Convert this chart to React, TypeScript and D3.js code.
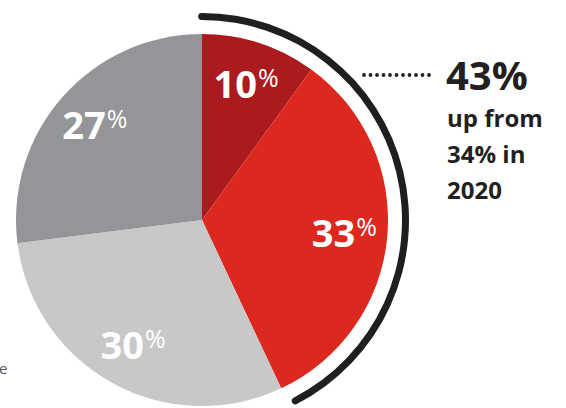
import React from "react";
import * as d3 from "d3";

const categories = ["A", "B", "C", "D"];
const values = [10, 33, 30, 27];
const colors = ["#ab1b1e", "#dc281e", "#c8c8c8", "#939598"];
const highlightShare = 43;
const headline = "43%";
const subLines = ["up from", "34% in", "2020"];

const W = 566;
const H = 408;
const cx = 202;
const cy = 220;
const R = 186;

export default function App() {
  const pie = d3.pie<number>().sort(null).value((d) => d);
  const arcs = pie(values);
  const arc = d3.arc<d3.PieArcDatum<number>>().innerRadius(0).outerRadius(R);
  const labelArc = d3.arc<d3.PieArcDatum<number>>().innerRadius(143).outerRadius(143);
  const angle = d3.scaleLinear().domain([0, 100]).range([0, 2 * Math.PI]);
  const ring = d3
    .arc()
    .innerRadius(200)
    .outerRadius(207)
    .cornerRadius(3.5)
    .startAngle(angle(-0.3))
    .endAngle(angle(highlightShare - 0.3));
  const dots = d3.range(364, 432, 6.5);
  const font = "'Open Sans', sans-serif";
  return (
    <svg width={W} height={H} style={{ position: "absolute", left: 0, top: 0 }}>
      <g transform={`translate(${cx},${cy})`}>
        {arcs.map((a, i) => (
          <path key={categories[i]} d={arc(a) || ""} fill={colors[i]} />
        ))}
        <path d={(ring as any)() || ""} fill="#1f1f1f" />
        {arcs.map((a, i) => {
          const [x, y] = labelArc.centroid(a);
          return (
            <text
              key={"l" + i}
              x={x}
              y={y + 14}
              textAnchor="middle"
              fill="#fff"
              fontFamily={font}
              fontWeight={700}
              fontSize={38}
            >
              {values[i]}
              <tspan fontSize={25} fontWeight={400} dy={-11} dx={1}>%</tspan>
            </text>
          );
        })}
      </g>
      {dots.map((x, i) => (
        <circle key={i} cx={x} cy={75} r={1.9} fill="#231f20" />
      ))}
      <text x={446} y={90} fontFamily={font} fontWeight={700} fontSize={40} fill="#231f20">
        {headline}
      </text>
      {subLines.map((s, i) => (
        <text key={s} x={447} y={127 + i * 36} fontFamily={font} fontWeight={700} fontSize={24} fill="#231f20">
          {s}
        </text>
      ))}
      <text x={-1} y={374} fontFamily={font} fontSize={15} fill="#555">e</text>
    </svg>
  );
}
